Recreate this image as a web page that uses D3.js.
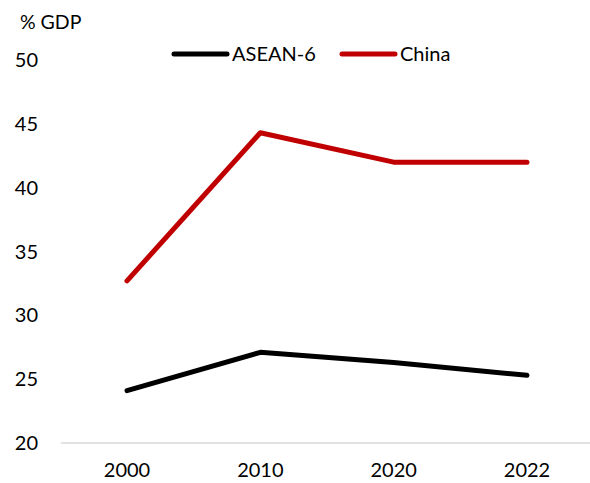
<!DOCTYPE html>
<html><head><meta charset="utf-8">
<script src="https://cdn.jsdelivr.net/npm/d3@7"></script>
<style>body{margin:0;background:#fff}svg{display:block}</style>
</head><body>
<script>
const years = ["2000","2010","2020","2022"];
const asean = [24.1, 27.1, 26.3, 25.3];
const china = [32.7, 44.3, 42.0, 42.0];
const yTicks = [20,25,30,35,40,45,50];
const seriesNames = ["ASEAN-6","China"];
const seriesColors = ["#000000","#C00000"];

const W=590,H=483;
const font="Lato, 'Open Sans', sans-serif";
const svg=d3.select("body").append("svg").attr("width",W).attr("height",H);
const x=d3.scalePoint().domain(years).range([127,527]);
const y=d3.scaleLinear().domain([20,50]).range([443,60]);

// y labels
svg.append("g").selectAll("text").data(yTicks).join("text")
  .attr("x",38).attr("y",d=>y(d)).attr("dy","0.35em").attr("text-anchor","end")
  .attr("font-family",font).attr("font-size",20).attr("fill","#000").text(d=>d);
// axis line
svg.append("line").attr("x1",61).attr("x2",592).attr("y1",y(20)).attr("y2",y(20))
  .attr("stroke","#d9d9d9").attr("stroke-width",1.5);
// x labels
svg.append("g").selectAll("text").data(years).join("text")
  .attr("x",d=>x(d)).attr("y",470).attr("dy","0.35em").attr("text-anchor","middle")
  .attr("font-family",font).attr("font-size",20).attr("fill","#000").text(d=>d);
// title
svg.append("text").attr("x",20).attr("y",22).attr("dy","0.35em")
  .attr("font-family",font).attr("font-size",19.5).text("% GDP");

const line=d3.line().x((d,i)=>x(years[i])).y(d=>y(d));
[asean,china].forEach((s,k)=>{
  svg.append("path").attr("d",line(s)).attr("fill","none").attr("stroke",seriesColors[k])
    .attr("stroke-width",5).attr("stroke-linecap","round").attr("stroke-linejoin","round");
});
// legend
const lx=[174,342];
seriesNames.forEach((n,k)=>{
  svg.append("line").attr("x1",lx[k]).attr("x2",lx[k]+53).attr("y1",54).attr("y2",54)
    .attr("stroke",seriesColors[k]).attr("stroke-width",5).attr("stroke-linecap","round");
  svg.append("text").attr("x",lx[k]+58).attr("y",54).attr("dy","0.35em")
    .attr("font-family",font).attr("font-size",20).text(n);
});
</script>
</body></html>
